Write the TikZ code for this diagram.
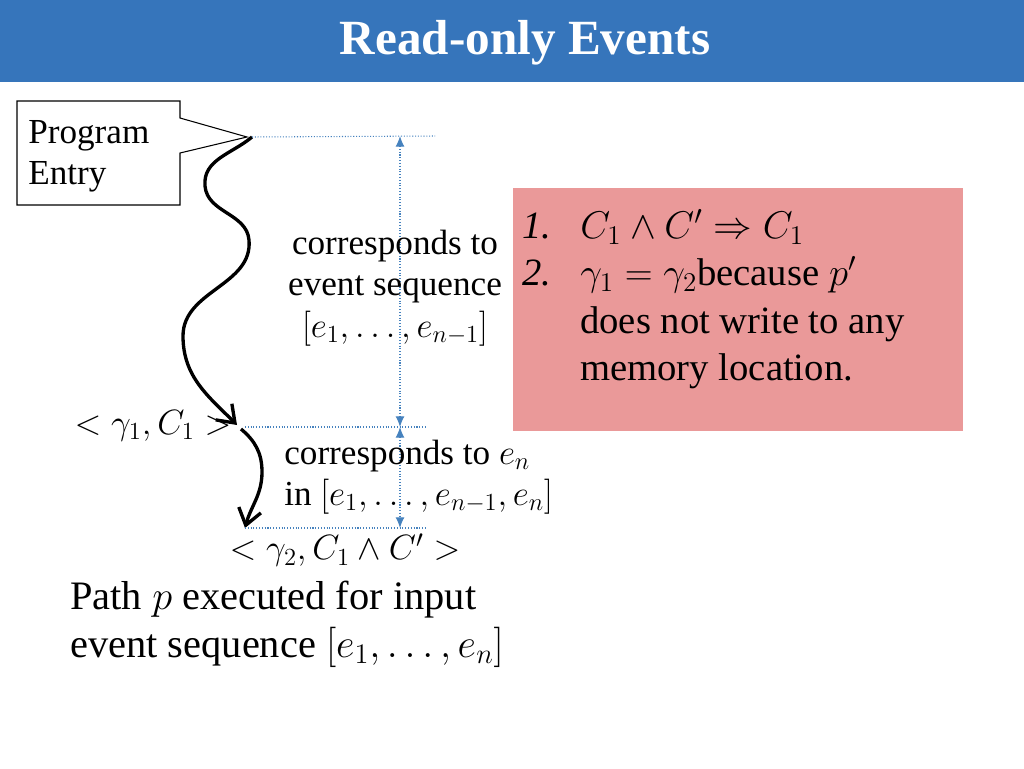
\documentclass[tikz,border=0pt]{standalone}
\usepackage{fix-cm}
\usepackage{amsmath}
\usepackage{fontspec}
\setmainfont{Liberation Serif}
\usepackage{xcolor}
\definecolor{titleblue}{RGB}{54,117,187}
\definecolor{guideblue}{RGB}{70,130,190}
\definecolor{notepink}{RGB}{234,153,153}
\usetikzlibrary{arrows.meta, positioning}

\begin{document}
\begin{tikzpicture}[x=0.02cm, y=-0.02cm,
	txt/.style={inner sep=0pt, font=\fontsize{20}{23.5}\selectfont},
	bigtxt/.style={inner sep=0pt, font=\fontsize{23}{27.5}\selectfont},
	flow/.style={line width=1.9pt, -{Straight Barb[length=9pt, width=13pt, line width=1.9pt]}},
	guide/.style={draw=guideblue, densely dotted, line width=0.6pt},
	span/.style={guide, {Latex[length=6pt, width=5pt]}-{Latex[length=6pt, width=5pt]}}
	]
\useasboundingbox (0,0) rectangle (1024,768);

\fill[titleblue] (0,0) rectangle (1024,82);
\node[text=white, font=\fontsize{28}{31}\selectfont\bfseries] (title) at (525,43) {Read-only Events};

\draw[line width=0.6pt, fill=white] (17,101) -- (180,101) -- (180,118) -- (247,137)
	-- (180,153) -- (180,205) -- (17,205) -- cycle;
\node[txt, anchor=west, align=left] (entrytext) at (28,156) {Program\\Entry};

\coordinate (entry) at (252,137);
\coordinate (s1) at (237,425);
\coordinate (s1b) at (241,429);
\coordinate (s2) at (245,528);
\draw[flow] (entry) to[out=220,in=95] (205,186) to[out=-85,in=95] (249,240)
	to[out=-85,in=90] (183,336) to[out=-90,in=135] (s1);
\draw[flow] (s1b) to[out=-40,in=90] (262,472) to[out=-90,in=75] (s2);

\coordinate (topA) at (400,136);
\coordinate (midA) at (400,427);
\coordinate (botA) at (400,528);
\draw[guide] (entry) -- (435,136);
\draw[guide] (s1b) ++(4,-2) -- (427,427);
\draw[guide] (s2) -- (427,528);
\draw[span] (topA) -- (midA);
\draw[span] (midA) -- (botA);

\node[txt, align=center] (seqtext) at (395,288)
	{corresponds to\\event sequence\\$[e_1, \ldots, e_{n-1}]$};
\node[txt, anchor=west, align=left] (lasttext) at (284,477)
	{corresponds to $e_n$\\in $[e_1, \ldots, e_{n-1}, e_n]$};
\node[txt] (state1) at (153,426) {$<\gamma_1, C_1>$};
\node[txt] (state2) at (345,550) {$<\gamma_2, C_1 \wedge C' >$};

\node[bigtxt, anchor=west, align=left] (pathtext) at (70,624)
	{Path $p$ executed for input\\event sequence $[e_1, \ldots, e_n]$};

\node[fill=notepink, minimum width=256.2pt, minimum height=137.8pt, inner sep=0pt] (note) at (738,309.5) {};
\node[inner sep=0pt, anchor=north west, align=left, font=\fontsize{22}{27}\selectfont] (notetext) at (522,209)
	{\makebox[33pt][l]{\textit{1.}}$C_1 \wedge C' \Rightarrow C_1$\\
	 \makebox[33pt][l]{\textit{2.}}$\gamma_1 = \gamma_2$because $p'$\\
	 \makebox[33pt][l]{}does not write to any\\
	 \makebox[33pt][l]{}memory location.};
\end{tikzpicture}
\end{document}
